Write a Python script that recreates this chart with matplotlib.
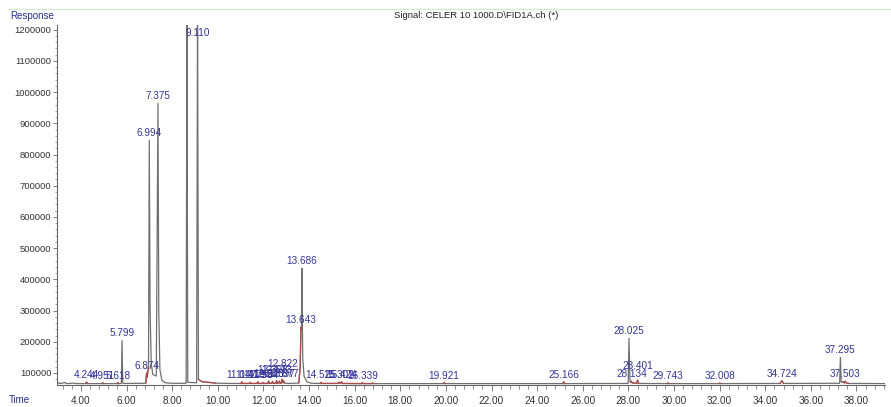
import matplotlib
matplotlib.use("Agg")
import matplotlib.pyplot as plt
from matplotlib.lines import Line2D
from matplotlib.ticker import MultipleLocator, FixedLocator
import numpy as np

# ---------------- data ----------------
# chromatogram trace vertices (time in min, response)
trace_time = [2.95, 3.05, 3.08, 3.12, 3.30, 3.33, 3.38, 3.70, 3.74, 3.80,
              4.20, 4.244, 4.29, 4.92, 4.951, 4.99, 5.59, 5.618, 5.65,
              5.77, 5.799, 5.83, 5.90,
              6.84, 6.874, 6.90, 6.96, 6.994, 7.03, 7.08, 7.15, 7.30, 7.375, 7.41, 7.46, 7.55, 7.70, 8.00,
              8.61, 8.645, 8.68, 9.07, 9.110, 9.15, 9.30, 9.60, 9.90, 10.50,
              11.02, 11.047, 11.08, 11.39, 11.419, 11.45, 11.72, 11.753, 11.78, 11.96, 11.994, 12.02,
              12.19, 12.223, 12.25, 12.37, 12.398, 12.43, 12.55, 12.573, 12.60, 12.67, 12.697, 12.74,
              12.80, 12.822, 12.85, 12.877, 12.92, 13.20,
              13.55, 13.61, 13.643, 13.665, 13.686, 13.72, 13.78, 13.90, 14.10,
              14.49, 14.525, 14.56, 15.27, 15.302, 15.33, 15.40, 15.424, 15.46, 16.30, 16.339, 16.37,
              16.75, 16.78, 16.81, 19.88, 19.921, 19.96, 25.13, 25.166, 25.20,
              27.99, 28.025, 28.07, 28.10, 28.134, 28.17, 28.37, 28.401, 28.44,
              29.71, 29.743, 29.78, 31.97, 32.008, 32.04, 34.65, 34.724, 34.80,
              37.26, 37.295, 37.33, 37.40, 37.46, 37.503, 37.55, 37.65, 39.25]
trace_resp = [66000, 68500, 66500, 66000, 70000, 66500, 66000, 67500, 66500, 66000,
              66000, 71000, 66000, 66000, 68500, 66000, 66000, 69000, 66000,
              66500, 205000, 68000, 66500,
              67000, 100000, 86000, 120000, 846000, 300000, 130000, 95000, 90000, 965000, 300000, 110000, 76000, 68500, 67000,
              67000, 1300000, 70000, 68500, 1300000, 80000, 72000, 70000, 67500, 66500,
              66500, 72000, 66500, 66500, 70000, 66500, 66500, 72000, 66500, 66500, 70000, 66500,
              66500, 74000, 67000, 67000, 73000, 67000, 67000, 76000, 67500, 67500, 74000, 67500,
              68000, 80000, 70000, 75000, 67500, 66500,
              68000, 120000, 247000, 240000, 436000, 150000, 90000, 72000, 67000,
              66500, 70000, 66500, 66500, 71000, 68000, 68000, 72000, 66500, 66000, 69000, 66000,
              66000, 68500, 66000, 66000, 69000, 66000, 66000, 72000, 66000,
              66500, 212000, 72000, 70000, 74000, 68000, 67000, 78000, 66500,
              66000, 68500, 66000, 66000, 67500, 66000, 66500, 75000, 66500,
              67000, 151000, 70000, 72000, 68000, 74000, 68000, 66500, 66000]

# labelled peaks
peak_labels = ["4.244", "4.951", "5.618", "5.799", "6.874", "6.994", "7.375", "9.110",
               "11.047", "11.419", "11.753", "11.994", "12.223", "12.398", "12.573",
               "12.697", "12.822", "12.877", "13.643", "13.686", "14.525", "15.302",
               "15.424", "16.339", "19.921", "25.166", "28.025", "28.134", "28.401",
               "29.743", "32.008", "34.724", "37.295", "37.503"]
peak_times = [float(s) for s in peak_labels]
peak_heights = [71000, 68500, 69000, 205000, 100000, 846000, 965000, 1300000,
                72000, 70000, 72000, 70000, 74000, 73000, 76000,
                74000, 80000, 75000, 247000, 436000, 70000, 71000,
                72000, 69000, 69000, 72000, 212000, 74000, 78000,
                68500, 67500, 75000, 151000, 74000]

# time ranges drawn in red (integrated baseline / small peaks)
red_ranges = [(4.20, 4.29), (4.92, 4.99), (5.59, 5.65), (6.84, 6.96), (9.15, 9.90),
              (11.02, 12.92), (13.55, 13.665), (14.49, 16.81), (19.88, 19.96),
              (25.13, 25.20), (28.10, 28.44), (29.71, 29.78), (31.97, 32.04),
              (34.65, 34.80), (37.40, 37.65)]

x_ticks = [4, 6, 8, 10, 12, 14, 16, 18, 20, 22, 24, 26, 28, 30, 32, 34, 36, 38]
y_ticks = [100000, 200000, 300000, 400000, 500000, 600000, 700000, 800000,
           900000, 1000000, 1100000, 1200000]

title = "Signal: CELER 10 1000.D\\FID1A.ch (*)"

# ---------------- figure ----------------
W, H = 891, 407
plt.rcParams['font.family'] = ['Liberation Sans', 'DejaVu Sans']
fig = plt.figure(figsize=(W / 100, H / 100), dpi=100)
ax_l, ax_r, ax_t, ax_b = 57, 885, 25, 385
ax = fig.add_axes([ax_l / W, 1 - ax_b / H, (ax_r - ax_l) / W, (ax_b - ax_t) / H])
xmin, xmax = 2.948, 39.25
ymin, ymax = 61500, 1215000
ax.set_xlim(xmin, xmax)
ax.set_ylim(ymin, ymax)

tt = np.array(trace_time)
rr = np.array(trace_resp)
ax.plot(tt, rr, color='#707070', lw=0.9, solid_joinstyle='miter', zorder=2)
for a, b in red_ranges:
    m = (tt >= a) & (tt <= b)
    ax.plot(tt[m], rr[m], color='#b04848', lw=0.9, zorder=3)

label_color = '#34349a'
extra_raise = {"12.822": 8, "12.398": 4, "12.573": 3, "28.401": 7}
for lab, t, h in zip(peak_labels, peak_times, peak_heights):
    if h > ymax:
        ax.annotate(lab, (t, ymax), xytext=(0, -8 * 0.72), textcoords='offset points',
                    ha='center', va='center', fontsize=7.2, color=label_color, zorder=5)
    else:
        dy = 7 + extra_raise.get(lab, 0)
        ax.annotate(lab, (t, h), xytext=(0, dy * 0.72), textcoords='offset points',
                    ha='center', va='center', fontsize=7.2, color=label_color, zorder=5)

for s in ['top', 'right']:
    ax.spines[s].set_visible(False)
for s in ['left', 'bottom']:
    ax.spines[s].set_color('#666666')
    ax.spines[s].set_linewidth(0.8)

ax.xaxis.set_major_locator(FixedLocator(x_ticks))
ax.set_xticklabels([f"{v:.2f}" for v in x_ticks])
ax.xaxis.set_minor_locator(MultipleLocator(0.4))
ax.yaxis.set_major_locator(FixedLocator(y_ticks))
ax.set_yticklabels([str(v) for v in y_ticks])
ax.yaxis.set_minor_locator(MultipleLocator(20000))
ax.tick_params(axis='x', which='major', length=4, width=0.6, color='#666666',
               labelsize=7.2, labelcolor='#333333', pad=4)
ax.tick_params(axis='x', which='minor', length=3, width=0.5, color='#666666')
ax.tick_params(axis='y', which='major', length=3, width=0.6, color='#666666',
               labelsize=6.8, labelcolor='#333333', pad=1)
ax.tick_params(axis='y', which='minor', length=1.5, width=0.5, color='#888888')

fig.text(10 / W, 1 - 16 / H, "Response", fontsize=7, color='#26308a', ha='left', va='center')
fig.text(9 / W, 1 - 400 / H, "Time", fontsize=7, color='#26308a', ha='left', va='center')
fig.text(476 / W, 1 - 15 / H, title, fontsize=6.8, color='#222222', ha='center', va='center')
fig.add_artist(Line2D([8 / W, 1], [1 - 9 / H, 1 - 9 / H], color='#d4ead4', lw=1))

fig.savefig("out.png", dpi=100)
